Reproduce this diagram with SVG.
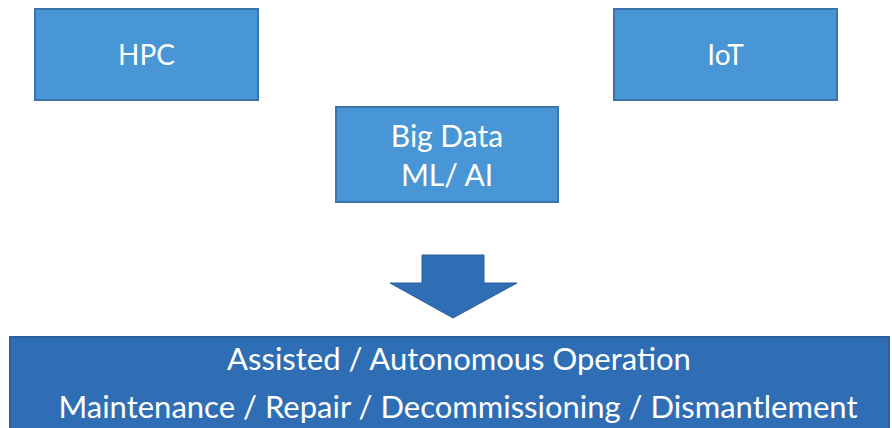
<svg xmlns="http://www.w3.org/2000/svg" width="892" height="428" viewBox="0 0 892 428">
<style>
.box{fill:#4896d6;stroke:#3b74aa;stroke-width:2}
.big{fill:#2f6eb5;stroke:#2a5f9c;stroke-width:2}
.t{font-family:Lato,"Open Sans","Liberation Sans",sans-serif;fill:#ffffff;text-anchor:middle;font-size:28px}
.tm{font-family:Lato,"Open Sans","Liberation Sans",sans-serif;fill:#ffffff;text-anchor:middle;font-size:30px}
.tb{font-family:Lato,"Open Sans","Liberation Sans",sans-serif;fill:#ffffff;text-anchor:middle;font-size:31px}
</style>
<rect width="892" height="428" fill="#ffffff"/>
<g id="hpc"><rect class="box" x="35" y="9" width="223" height="91"/><text class="t" x="146.5" y="65">HPC</text></g>
<g id="iot"><rect class="box" x="614" y="9" width="223" height="91"/><text class="t" x="725.5" y="65">IoT</text></g>
<g id="bigdata"><rect class="box" x="336" y="107" width="222" height="95"/><text class="tm" x="447" y="147">Big Data</text><text class="tm" x="447" y="186">ML/ AI</text></g>
<g id="connectors"><polygon points="422,255 484,255 484,283 517,283 453,318 390,283 422,283" fill="#2f6eb5" stroke="#2a5f9c" stroke-width="1"/></g>
<g id="outcome"><rect class="big" x="10" y="337" width="879" height="95"/><text class="tb" x="459" y="370">Assisted / Autonomous Operation</text><text class="tb" x="458" y="418">Maintenance / Repair / Decommissioning / Dismantlement</text></g>
</svg>
